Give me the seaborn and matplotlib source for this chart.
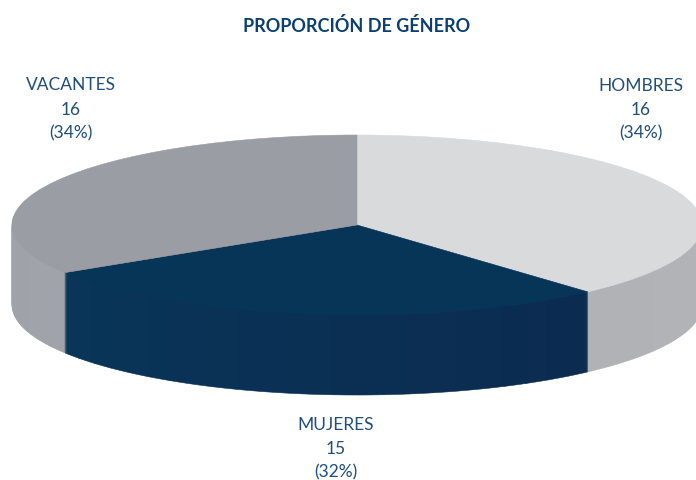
import seaborn as sns
import matplotlib.pyplot as plt

categories = ['HOMBRES', 'MUJERES', 'VACANTES']
counts = [16, 15, 16]
percents = [34, 32, 34]
# sweep of each slice as it appears on the tilted pie, in degrees
slice_sweep = [138, 100, 122]

top_colors = ['#d9dadc', '#063558', '#9a9da3']
# wall shade at the clockwise start and end of each slice
wall_shades = [('#b4b6ba', '#b0b2b6'), ('#0c2b50', '#083558'), ('#a0a3a9', '#9c9fa5')]
text_color = '#1f4e79'
title_color = '#0a3f6f'

W, H = 696, 480
cx, cy = 357, 225   # pie centre, pixels
rx, ry = 345, 90    # top ellipse radii, pixels
depth = 80          # wall height, pixels
steps = 24          # colour steps along each wall

sns.set_theme(style='white')
plt.rcParams['font.family'] = ['Lato', 'DejaVu Sans']

fig = plt.figure(figsize=(W / 100, H / 100), dpi=100)
ax = fig.add_axes([0, 0, 1, 1])


def draw_layer(offset, sizes, colors):
    # one unit of data is rx wide and ry tall, so the circle comes out squashed
    wedges, _ = ax.pie(sizes, colors=colors, startangle=90, counterclock=False,
                       center=(cx / rx, (H - cy - offset) / ry), radius=1,
                       normalize=True)
    # thin edge in the slice colour hides the seams between wedges
    for wedge, color in zip(wedges, colors):
        wedge.set_edgecolor(color)
        wedge.set_linewidth(0.4)


wall_sizes = []
wall_colors = []
for sweep, (start, end) in zip(slice_sweep, wall_shades):
    wall_sizes += [sweep / steps] * steps
    wall_colors += sns.blend_palette([start, end], steps)

# stack the slices from the bottom up to build the side wall
for offset in range(depth, 0, -1):
    draw_layer(offset, wall_sizes, wall_colors)
draw_layer(0, slice_sweep, top_colors)

ax.set_aspect('auto')
ax.set_xlim(0, W / rx)
ax.set_ylim(0, H / ry)
ax.axis('off')

# centre x and text baselines, pixels
label_pos = {'HOMBRES': (641, [91, 115, 138]),
             'MUJERES': (336, [430, 454, 477]),
             'VACANTES': (71, [90, 115, 138])}

for name, n, pct in zip(categories, counts, percents):
    x, ys = label_pos[name]
    for line, y in zip([name, str(n), f'({pct}%)'], ys):
        fig.text(x / W, 1 - y / H, line, ha='center', va='baseline',
                 fontsize=12.5, color=text_color)

fig.text(357 / W, 1 - 32 / H, 'PROPORCIÓN DE GÉNERO', ha='center', va='baseline',
         fontsize=13, fontweight='bold', color=title_color)

fig.savefig('out.png', dpi=100)
